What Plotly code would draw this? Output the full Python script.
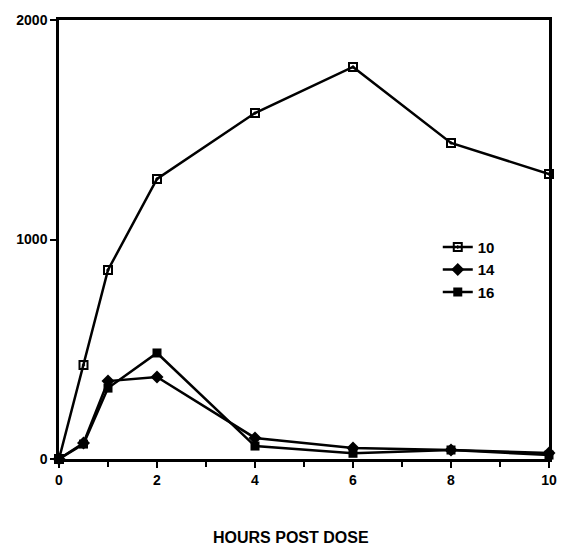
import plotly.graph_objects as go

hours = [0, 0.5, 1, 2, 4, 6, 8, 10]
series_names = ["10", "14", "16"]
s10 = [0, 428, 861, 1276, 1576, 1786, 1440, 1298]
s14 = [0, 73, 355, 374, 96, 50, 41, 27]
s16 = [0, 68, 323, 483, 59, 26, 41, 18]
x_ticks = [0, 2, 4, 6, 8, 10]
y_ticks = [0, 1000, 2000]
x_title = "HOURS POST DOSE"

FAM = "Liberation Sans, Arial, sans-serif"

fig = go.Figure()
styles = [
    dict(symbol="square-open-dot", size=8, line=dict(width=2), color="black"),
    dict(symbol="diamond", size=10, color="black"),
    dict(symbol="square", size=9, color="black"),
]
for name, vals, mk in zip(series_names, [s10, s14, s16], styles):
    fig.add_trace(go.Scatter(
        x=hours, y=vals, name=name, mode="lines+markers",
        line=dict(color="black", width=2.5),
        marker=mk, cliponaxis=False,
    ))

fig.update_layout(
    width=564, height=545,
    margin=dict(l=59, r=7, t=20, b=86),
    plot_bgcolor="white", paper_bgcolor="white",
    font=dict(family=FAM, size=14, color="black"),
    showlegend=True,
    legend=dict(x=0.773, y=0.52, xanchor="left", yanchor="top",
                bgcolor="rgba(0,0,0,0)",
                font=dict(size=15, family=FAM, color="black", weight="bold"),
                tracegroupgap=0),
    annotations=[dict(text=x_title, xref="paper", yref="paper",
                      x=0.474, y=-0.178, xanchor="center", yanchor="middle",
                      showarrow=False,
                      font=dict(size=16, family=FAM, color="black", weight="bold"))],
)
fig.update_xaxes(
    range=[0, 10], tickvals=x_ticks, ticktext=[str(v) for v in x_ticks],
    showgrid=False, zeroline=False,
    showline=True, linecolor="black", linewidth=2.5, mirror=True,
    ticks="outside", ticklen=6, tickwidth=2, tickcolor="black",
    minor=dict(dtick=1, ticks="outside", ticklen=5, tickwidth=2, tickcolor="black"),
    tickfont=dict(size=14, family=FAM, color="black", weight="bold"),
)
fig.update_yaxes(
    range=[0, 2000], tickvals=y_ticks, ticktext=[str(v) for v in y_ticks],
    showgrid=False, zeroline=False,
    showline=True, linecolor="black", linewidth=2.5, mirror=True,
    ticks="outside", ticklen=6, tickwidth=2, tickcolor="black",
    tickfont=dict(size=14, family=FAM, color="black", weight="bold"),
)

fig.write_html("out.html", config={"displayModeBar": False},
               post_script="document.body.style.margin='0';document.body.style.overflow='hidden';")
